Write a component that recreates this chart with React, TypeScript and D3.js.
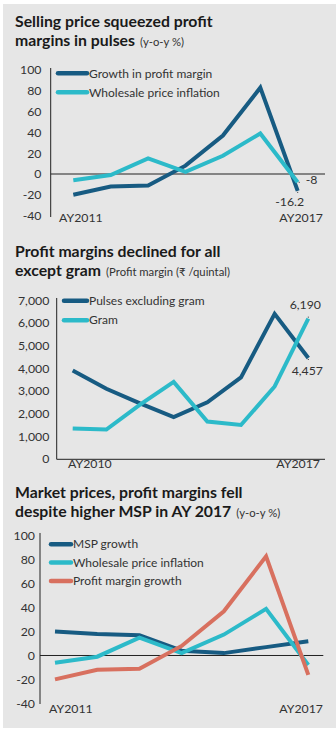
import React from 'react';
import * as d3 from 'd3';

// ---------- data ----------
const yearsA = ['AY2011', 'AY2012', 'AY2013', 'AY2014', 'AY2015', 'AY2016', 'AY2017'];
const profitGrowth = [-20, -12, -11, 8, 37, 83, -16.2];
const wholesaleInflation = [-6, -1, 15, 2, 17.5, 39, -8];
const mspGrowth = [20, 18, 17, 4, 2, 7, 12];

const yearsB = ['AY2010', 'AY2011', 'AY2012', 'AY2013', 'AY2014', 'AY2015', 'AY2016', 'AY2017'];
const pulsesExGram = [3900, 3100, 2450, 1850, 2500, 3600, 6400, 4457];
const gram = [1350, 1300, 2400, 3400, 1650, 1500, 3200, 6190];

const pctTicks = [-40, -20, 0, 20, 40, 60, 80, 100];
const rsTicks = [0, 1000, 2000, 3000, 4000, 5000, 6000, 7000];

const DARK = '#175b82';
const CYAN = '#2cbac9';
const ORANGE = '#d8705f';
const TEXT = '#333333';
const TITLE = '#1a1a1a';
const FONT = 'Lato, "Open Sans", sans-serif';

type Series = { name: string; values: number[]; color: string };

type ChartProps = {
  top: number;
  title1: string;
  title2: string;
  sub: string;
  years: string[];
  series: Series[];
  ticks: number[];
  yDomain: [number, number];
  yRange: [number, number];
  axisX: number;
  xFirst: number;
  xLast: number;
  lineEnd: number;
  axisTop: number;
  axisBottom: number;
  tickRight: number;
  zeroLine: boolean;
  bottomAxis: boolean;
  tickFmt: (v: number) => string;
  legendX: number;
  legendY: number;
  legendGap: number;
  legendLen: number;
  xLabelY: number;
  xLabelStart: number;
  xLabelEnd: number;
  annotations?: (x: d3.ScalePoint<string>, y: d3.ScaleLinear<number, number>) => React.ReactNode;
};

function Chart(p: ChartProps) {
  const x = d3.scalePoint<string>().domain(p.years).range([p.xFirst, p.xLast]);
  const y = d3.scaleLinear().domain(p.yDomain).range(p.yRange);
  const line = (vals: number[]) =>
    d3
      .line<number>()
      .x((_, i) => x(p.years[i]) as number)
      .y((v) => y(v))(vals) as string;
  return (
    <g transform={`translate(0,${p.top})`}>
      <text x={15} y={0} fontFamily={FONT} fontWeight={700} fontSize={15.8} fill={TITLE}>
        {p.title1}
      </text>
      <text x={15} y={19} fontFamily={FONT} fontWeight={700} fontSize={15.8} fill={TITLE}>
        {p.title2}
        <tspan fontWeight={400} fontSize={11.3} fill={TEXT} dx={5}>
          {p.sub}
        </tspan>
      </text>
      {/* y axis */}
      <line x1={p.axisX} x2={p.axisX} y1={p.axisTop} y2={p.axisBottom} stroke="#222" strokeWidth={1} />
      {p.zeroLine && (
        <line x1={p.axisX} x2={p.lineEnd} y1={y(0)} y2={y(0)} stroke="#222" strokeWidth={1} />
      )}
      {p.bottomAxis && (
        <line x1={p.axisX} x2={p.lineEnd} y1={p.axisBottom} y2={p.axisBottom} stroke="#222" strokeWidth={1} />
      )}
      {p.ticks.map((t) => (
        <text
          key={t}
          x={p.tickRight}
          y={y(t)}
          dy="0.36em"
          textAnchor="end"
          fontFamily={FONT}
          fontSize={12.3}
          fill={TEXT}
        >
          {p.tickFmt(t)}
        </text>
      ))}
      {p.series.map((s) => (
        <path key={s.name} d={line(s.values)} fill="none" stroke={s.color} strokeWidth={4} />
      ))}
      {p.series.map((s, i) => (
        <g key={'lg' + s.name}>
          <line
            x1={p.legendX}
            x2={p.legendX + p.legendLen}
            y1={p.legendY + i * p.legendGap}
            y2={p.legendY + i * p.legendGap}
            stroke={s.color}
            strokeWidth={4.5}
            strokeLinecap="round"
          />
          <text
            x={p.legendX + p.legendLen + 2}
            y={p.legendY + i * p.legendGap}
            dy="0.35em"
            fontFamily={FONT}
            fontSize={12}
            fill={TEXT}
          >
            {s.name}
          </text>
        </g>
      ))}
      <text x={p.xLabelStart} y={p.xLabelY} fontFamily={FONT} fontSize={12.3} fill={TEXT}>
        {p.years[0]}
      </text>
      <text x={p.xLabelEnd} y={p.xLabelY} textAnchor="end" fontFamily={FONT} fontSize={12.3} fill={TEXT}>
        {p.years[p.years.length - 1]}
      </text>
      {p.annotations && p.annotations(x, y)}
    </g>
  );
}

export default function App() {
  const last = yearsA.length - 1;
  const lastB = yearsB.length - 1;
  return (
    <svg
      width={336}
      height={733}
      style={{ position: 'absolute', left: 0, top: 0, display: 'block' }}
    >
      <rect x={0} y={0} width={336} height={733} fill="#ffffff" />
      <rect x={3} y={4} width={333} height={724} fill="#e6e6e6" />

      <Chart
        top={27}
        title1="Selling price squeezed profit"
        title2="margins in pulses"
        sub="(y-o-y %)"
        years={yearsA}
        series={[
          { name: 'Growth in profit margin', values: profitGrowth, color: DARK },
          { name: 'Wholesale price inflation', values: wholesaleInflation, color: CYAN },
        ]}
        ticks={pctTicks}
        yDomain={[-40, 100]}
        yRange={[215.6 - 27, 70 - 27]}
        axisX={50.7}
        xFirst={73.3}
        xLast={297.7}
        lineEnd={325}
        axisTop={68 - 27}
        axisBottom={217 - 27}
        tickRight={41.5}
        zeroLine={true}
        bottomAxis={false}
        tickFmt={(v) => String(v)}
        legendX={58}
        legendY={73.3 - 27}
        legendGap={19}
        legendLen={29}
        xLabelY={222 - 27}
        xLabelStart={59}
        xLabelEnd={323}
        annotations={(x, y) => {
          const xe = x(yearsA[last]) as number;
          return (
            <g fontFamily={FONT} fontSize={12.3} fill={TEXT}>
              <line x1={xe + 1} x2={xe + 4} y1={y(wholesaleInflation[last])} y2={y(wholesaleInflation[last])} stroke="#333" strokeWidth={1} strokeDasharray="1,2" />
              <line x1={xe} x2={xe} y1={y(profitGrowth[last]) + 1} y2={y(profitGrowth[last]) + 3} stroke="#333" strokeWidth={1} strokeDasharray="1,1" />
              <text x={xe + 8} y={y(wholesaleInflation[last])} dy="0.1em">
                {String(wholesaleInflation[last])}
              </text>
              <text x={xe - 8} y={y(profitGrowth[last]) + 11} dy="0.35em" textAnchor="middle">
                {String(profitGrowth[last])}
              </text>
            </g>
          );
        }}
      />

      <Chart
        top={257.3}
        title1="Profit margins declined for all"
        title2="except gram"
        sub="(Profit margin (₹ /quintal)"
        years={yearsB}
        series={[
          { name: 'Pulses excluding gram', values: pulsesExGram, color: DARK },
          { name: 'Gram', values: gram, color: CYAN },
        ]}
        ticks={rsTicks}
        yDomain={[0, 7000]}
        yRange={[459 - 257.3, 300.3 - 257.3]}
        axisX={56.7}
        xFirst={72.7}
        xLast={308.3}
        lineEnd={325}
        axisTop={298 - 257.3}
        axisBottom={459.3 - 257.3}
        tickRight={49.3}
        zeroLine={false}
        bottomAxis={true}
        tickFmt={d3.format(',')}
        legendX={64}
        legendY={300.7 - 257.3}
        legendGap={19.5}
        legendLen={23}
        xLabelY={468 - 257.3}
        xLabelStart={68}
        xLabelEnd={320}
        annotations={(x, y) => {
          const xe = x(yearsB[lastB]) as number;
          const fmt = d3.format(',');
          return (
            <g fontFamily={FONT} fontSize={12.3} fill={TEXT}>
              <line x1={xe} x2={xe} y1={y(gram[lastB]) - 1} y2={y(gram[lastB]) - 4} stroke="#333" strokeWidth={1} strokeDasharray="1,2" />
              <line x1={xe} x2={xe} y1={y(pulsesExGram[lastB]) + 1} y2={y(pulsesExGram[lastB]) + 4} stroke="#333" strokeWidth={1} strokeDasharray="1,2" />
              <text x={xe - 3} y={y(gram[lastB]) - 14} dy="0.35em" textAnchor="middle">
                {fmt(gram[lastB])}
              </text>
              <text x={xe - 1} y={y(pulsesExGram[lastB]) + 13} dy="0.35em" textAnchor="middle">
                {fmt(pulsesExGram[lastB])}
              </text>
            </g>
          );
        }}
      />

      <Chart
        top={498.3}
        title1="Market prices, profit margins fell"
        title2="despite higher MSP in AY 2017"
        sub="(y-o-y %)"
        years={yearsA}
        series={[
          { name: 'MSP growth', values: mspGrowth, color: DARK },
          { name: 'Wholesale price inflation', values: wholesaleInflation, color: CYAN },
          { name: 'Profit margin growth', values: profitGrowth, color: ORANGE },
        ]}
        ticks={pctTicks}
        yDomain={[-40, 100]}
        yRange={[703.3 - 498.3, 536 - 498.3]}
        axisX={40}
        xFirst={55}
        xLast={308.3}
        lineEnd={323.3}
        axisTop={533 - 498.3}
        axisBottom={704 - 498.3}
        tickRight={35}
        zeroLine={true}
        bottomAxis={false}
        tickFmt={(v) => String(v)}
        legendX={51}
        legendY={544.3 - 498.3}
        legendGap={18.3}
        legendLen={20}
        xLabelY={713.5 - 498.3}
        xLabelStart={49}
        xLabelEnd={323}
      />
    </svg>
  );
}
